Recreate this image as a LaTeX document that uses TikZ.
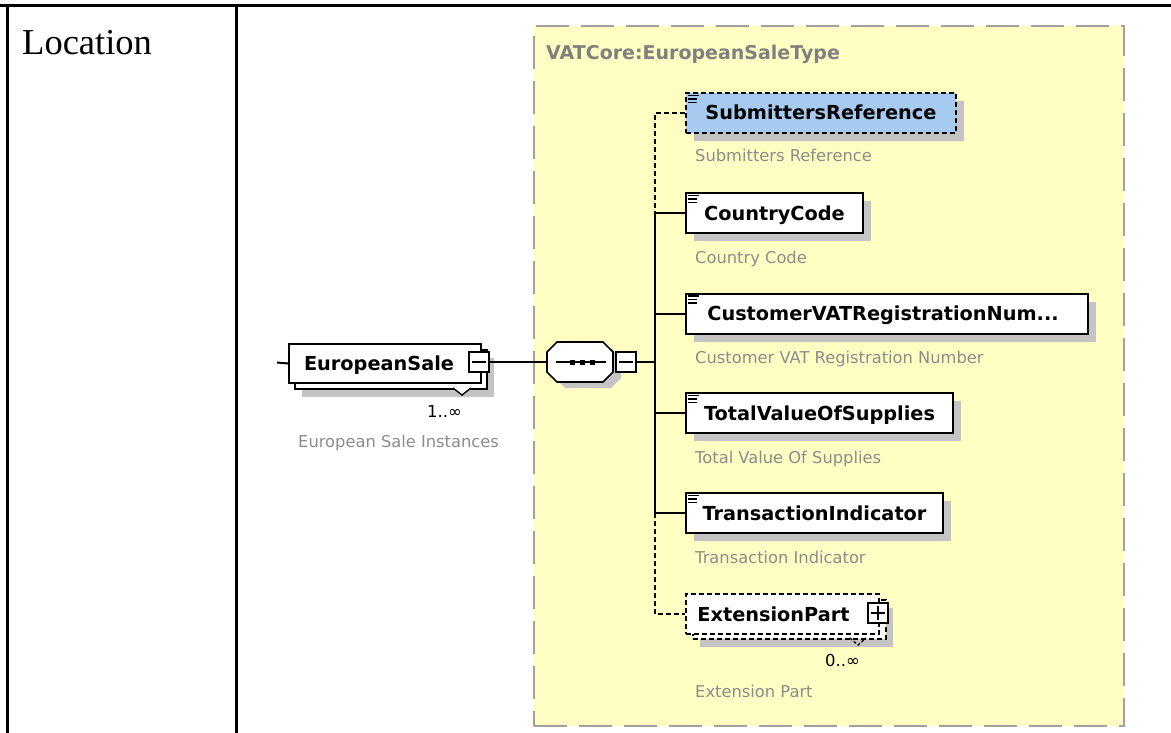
\documentclass[tikz,border=0pt]{standalone}
\usepackage{fontspec}
\setmainfont{Liberation Serif}
\newfontfamily\xsd{DejaVu Sans}
\usetikzlibrary{shadows}
\definecolor{paleyellow}{HTML}{FFFFC4}
\definecolor{framegray}{HTML}{A0A0A0}
\definecolor{shadowgray}{HTML}{C4C4C4}
\definecolor{descgray}{HTML}{8C8C8C}
\definecolor{titlegray}{HTML}{808080}
\definecolor{selblue}{HTML}{A6CAF0}
\tikzset{
  tableline/.style={line width=2.8pt, black},
  elem/.style={draw=black, line width=2pt, fill=white, minimum height=40pt,
     inner sep=0pt, text height=14pt, text depth=0pt,
     font=\xsd\bfseries\fontsize{19.3}{22}\selectfont,
     drop shadow={shadow xshift=8pt, shadow yshift=-8pt, opacity=1, fill=shadowgray}},
  optelem/.style={elem, dash pattern=on 5pt off 3pt},
  stackback/.style={draw=black, line width=2pt, fill=white, minimum height=39pt, inner sep=0pt,
     drop shadow={shadow xshift=7pt, shadow yshift=-8pt, opacity=1, fill=shadowgray}},
  desc/.style={anchor=base west, inner sep=0pt, text=descgray, font=\xsd\fontsize{16.3}{19}\selectfont},
  occur/.style={anchor=base west, inner sep=0pt, font=\xsd\fontsize{16.5}{19}\selectfont},
  toggle/.style={draw=black, line width=1.6pt, fill=white, minimum size=20pt, inner sep=0pt},
  conn/.style={line width=2pt, black},
  optconn/.style={conn, dash pattern=on 5pt off 3pt},
  icon/.style={line width=1.1pt, black},
}
\begin{document}
\begin{tikzpicture}[x=1pt, y=-1pt]
\useasboundingbox (0,0) rectangle (1171,733);
% table lines
\draw[tableline] (0,5.3) -- (1171,5.3);
\draw[tableline] (7.3,5.3) -- (7.3,733);
\draw[tableline] (236.7,5.3) -- (236.7,733);
\node[anchor=base west, inner sep=0pt, font=\fontsize{36.5}{40}\selectfont] (loc) at (22,55) {Location};
% complex type frame
\node[draw=framegray, line width=2.2pt, fill=paleyellow, dash pattern=on 33pt off 12pt,
      minimum width=590pt, minimum height=700pt, anchor=north west, inner sep=0pt] (frame) at (533,25) {};
\node[anchor=base west, inner sep=0pt, text=titlegray, font=\xsd\bfseries\fontsize{19}{22}\selectfont] (title) at (546,60) {VATCore:EuropeanSaleType};

% European Sale element (stacked)
\node[stackback, minimum width=192pt, anchor=north west] (eusback) at (294,349) {};
\node[draw=black, line width=2pt, fill=white, minimum width=192pt, minimum height=39pt, inner sep=0pt,
      text height=14pt, text depth=0pt, font=\xsd\bfseries\fontsize{19.3}{22}\selectfont,
      anchor=north west] (eus) at (288,343) {\hspace*{-12pt}EuropeanSale};
\draw[line width=1.4pt, fill=white] (453,388) -- (462,395) -- (471,388);
\node[toggle] (eustog) at (479,362) {};
\draw[line width=1.6pt] ([xshift=4pt]eustog.west) -- ([xshift=-4pt]eustog.east);
\node[occur] (eusocc) at (427,417) {1..∞};
\node[desc] (eusdesc) at (298,447) {European Sale Instances};
\coordinate (in) at (277,362.5);

% sequence compositor (octagon)
\fill[shadowgray] (565,348) -- (611,348) -- (621,358) -- (621,378) -- (611,388) -- (565,388) -- (555,378) -- (555,358) -- cycle;
\draw[line width=1.6pt, fill=white] (557,342) -- (603,342) -- (613,352) -- (613,372) -- (603,382) -- (557,382) -- (547,372) -- (547,352) -- cycle;
\node[inner sep=0pt, minimum width=66pt, minimum height=40pt] (seq) at (580,362) {};
\draw[line width=1.6pt] (556,362) -- (606,362);
\fill (569.5,359.5) rectangle (574.5,364.5);
\fill (579.5,359.5) rectangle (584.5,364.5);
\fill (589.5,359.5) rectangle (594.5,364.5);
\node[toggle] (seqtog) at (626,362) {};
\draw[line width=1.6pt] ([xshift=4pt]seqtog.west) -- ([xshift=-4pt]seqtog.east);
\coordinate (bus) at (655,362);

% child elements
\node[optelem, fill=selblue, minimum width=270pt, anchor=north west] (sr) at (685,92) {SubmittersReference};
\node[elem, minimum width=177pt, anchor=north west] (cc) at (685,192) {CountryCode};
\node[elem, minimum width=402pt, anchor=north west] (cvat) at (685,292.5) {\hspace*{-8pt}CustomerVATRegistrationNum...};
\node[elem, minimum width=267pt, anchor=north west] (tv) at (685,392) {TotalValueOfSupplies};
\node[elem, minimum width=257pt, anchor=north west] (ti) at (685,492) {TransactionIndicator};

% annotation icons
\foreach \n in {sr,cc,cvat,tv,ti}{
  \draw[icon] ([xshift=3pt,yshift=-3.5pt]\n.north west) -- ++(11,0);
  \draw[icon] ([xshift=3pt,yshift=-7pt]\n.north west) -- ++(9,0);
  \draw[icon] ([xshift=3pt,yshift=-10.5pt]\n.north west) -- ++(9,0);
}

% ExtensionPart (optional, repeating)
\node[stackback, dash pattern=on 5pt off 3pt, minimum width=193pt, anchor=north west] (extback) at (692,599) {};
\node[draw=black, line width=2pt, dash pattern=on 5pt off 3pt, fill=white, minimum width=193pt,
      minimum height=40pt, inner sep=0pt, text height=14pt, text depth=0pt,
      font=\xsd\bfseries\fontsize{19.3}{22}\selectfont, anchor=north west] (ext) at (685,593) {\hspace*{-18pt}ExtensionPart};
\draw[line width=1.4pt, dash pattern=on 3pt off 2pt] (850,638) -- (858,645) -- (866,638);
\node[toggle] (exttog) at (878,613) {};
\draw[line width=1.6pt] ([xshift=4pt]exttog.west) -- ([xshift=-4pt]exttog.east);
\draw[line width=1.6pt] ([yshift=-4pt]exttog.north) -- ([yshift=4pt]exttog.south);
\node[occur] (extocc) at (825,666) {0..∞};

% descriptions
\node[desc] (srdesc) at (695,162) {Submitters Reference};
\node[desc] (ccdesc) at (695,263) {Country Code};
\node[desc] (cvatdesc) at (695,363) {Customer VAT Registration Number};
\node[desc] (tvdesc) at (695,463) {Total Value Of Supplies};
\node[desc] (tidesc) at (695,563) {Transaction Indicator};
\node[desc] (extdesc) at (695,697) {Extension Part};

% connectors
\draw[conn] (in) -- (eus.west);
\draw[conn] (eustog.east) -- (seq.west);
\draw[conn] (seqtog.east) -- (bus);
\draw[optconn] (sr.west) -- (sr.west -| bus) -- (cc.west -| bus);
\draw[conn] (cc.west) -- (cc.west -| bus) -- (ti.west -| bus) -- (ti.west);
\draw[conn] (cvat.west) -- (cvat.west -| bus);
\draw[conn] (tv.west) -- (tv.west -| bus);
\draw[optconn] (ti.west -| bus) -- (ext.west -| bus) -- (ext.west);
\end{tikzpicture}
\end{document}
